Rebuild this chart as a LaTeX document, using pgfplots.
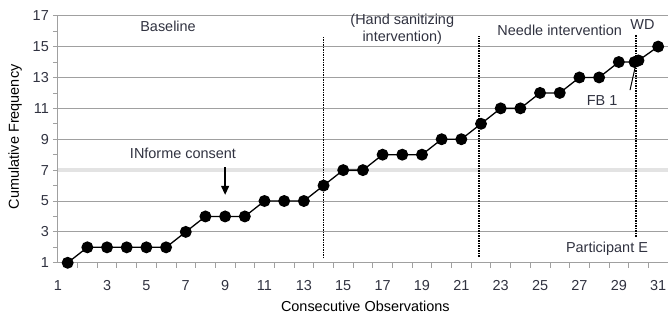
\documentclass[border=0pt]{standalone}
\usepackage{pgfplots}
\pgfplotsset{compat=1.18}
\usepackage{fontspec}
\setmainfont{Liberation Sans}
\usetikzlibrary{arrows.meta}
\definecolor{txt}{RGB}{48,50,64}
\definecolor{gridc}{RGB}{160,160,160}
\newcommand\cf{\fontsize{14.5}{17}\selectfont}
\begin{document}
\cf
\begin{tikzpicture}[font=\cf]
\begin{axis}[
  scale only axis, width=610bp, height=247bp,
  xmin=0.5, xmax=31.5, ymin=1, ymax=17,
  clip=false,
  axis x line*=bottom, axis y line*=left,
  axis line style={gridc, line width=1bp},
  xtick={0.5,3,5,7,9,11,13,15,17,19,21,23,25,27,29,31},
  xticklabels={1,3,5,7,9,11,13,15,17,19,21,23,25,27,29,31},
  major x tick style={draw=none},
  minor xtick={1.5,2.5,...,31.5},
  ytick={1,3,5,9,11,13,15,17},
  yticklabels={1,3,5,9,11,13,15,17},
  minor ytick={2,4,...,16},
  extra y ticks={7},
  extra y tick labels={7},
  extra y tick style={grid style={line width=3.5bp, color=gray!22}},
  tick align=outside, major tick length=5bp, minor tick length=5bp,
  tick style={gridc, line width=0.8bp},
  ymajorgrids, grid style={gridc, line width=1bp},
  tick label style={font=\cf, text=txt},
  xticklabel style={anchor=center, yshift=-17.5bp},
  yticklabel style={xshift=1bp},
  label style={font=\cf, text=txt},
  xlabel={Consecutive Observations},
  ylabel={Cumulative Frequency},
  every axis x label/.style={at={(axis description cs:0.504,-0.178)}, anchor=center},
  every axis y label/.style={at={(axis description cs:-0.070,0.51)}, anchor=center, rotate=90},
]
\addplot[black, line width=1.3bp, mark=*, mark size=5.3bp, mark options={fill=black, solid}] coordinates {
(1,1)(2,2)(3,2)(4,2)(5,2)(6,2)(7,3)(8,4)(9,4)(10,4)(11,5)(12,5)(13,5)(14,6)(15,7)(16,7)
(17,8)(18,8)(19,8)(20,9)(21,9)(22,10)(23,11)(24,11)(25,12)(26,12)(27,13)(28,13)(29,14)(29.8,14)(30,14.1)(31,15)};
\addplot[black, line width=1.5bp, densely dotted] coordinates {(14,1.3)(14,15.6)};
\addplot[black, line width=1.5bp, densely dotted] coordinates {(21.9,1.4)(21.9,15.7)};
\addplot[black, line width=1.5bp, densely dotted] coordinates {(29.88,2.7)(29.88,15.75)};
\draw[-{Triangle[width=8bp,length=9bp]}, black, line width=1.3bp] (axis cs:9,7.2) -- (axis cs:9,5.4);
\draw[black, line width=1bp] (axis cs:29.57,12.18) -- (axis cs:29.88,13.93);
\begin{scope}[every node/.style={font=\cf, text=txt}]
\node at (axis cs:6.1,16.3) {Baseline};
\node[align=center] at (axis cs:18.0,16.1) {(Hand sanitizing\\intervention)};
\node at (axis cs:26.0,16.05) {Needle intervention};
\node at (axis cs:30.2,16.45) {WD};
\node at (axis cs:6.86,8.1) {INforme consent};
\node at (axis cs:28.15,11.5) {FB 1};
\node at (axis cs:28.4,1.9) {Participant E};
\end{scope}
\end{axis}
\pgfresetboundingbox
\path[use as bounding box] ([shift={(-57.8bp,-59bp)}]current axis.south west) rectangle ([shift={(0bp,15.7bp)}]current axis.north east);
\end{tikzpicture}
\end{document}
